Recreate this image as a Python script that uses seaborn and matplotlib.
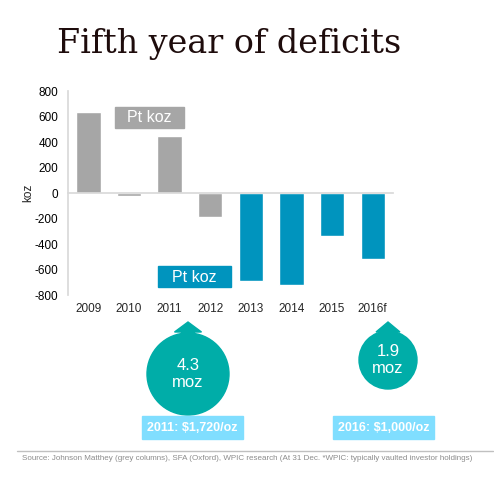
import numpy as np
import matplotlib
matplotlib.use("Agg")
import matplotlib.pyplot as plt
import matplotlib.patches as mpatches
import seaborn as sns

# data
years = ['2009', '2010', '2011', '2012', '2013', '2014', '2015', '2016f']
balance_koz = [635, -25, 450, -185, -690, -720, -335, -520]
source = ['JM', 'JM', 'JM', 'JM', 'WPIC', 'WPIC', 'WPIC', 'WPIC']
palette = {'JM': '#A6A6A6', 'WPIC': '#0094BE'}
y_ticks = [-800, -600, -400, -200, 0, 200, 400, 600, 800]
stock_labels = ['4.3\nmoz', '1.9\nmoz']
price_labels = ['2011: $1,720/oz', '2016: $1,000/oz']

sns.set_theme(style="white")
plt.rcParams['font.family'] = ['Liberation Sans', 'DejaVu Sans']

fig = plt.figure(figsize=(4.94, 4.80), dpi=100)
ax = fig.add_axes([68 / 494, 1 - 295 / 480, 325 / 494, 204 / 480])

sns.barplot(x=years, y=balance_koz, hue=source, palette=palette, dodge=False,
            width=0.6, legend=False, saturation=1, ax=ax)

ax.set_xlim(-0.5, 7.5)
ax.set_ylim(-800, 800)
ax.set_yticks(y_ticks)
ax.set_yticklabels([str(t) for t in y_ticks])
ax.tick_params(axis='y', length=0, labelsize=8.5, pad=7, colors='#000000')
ax.set_ylabel('koz', fontsize=8.5, labelpad=0)

# zero line with boundary ticks, year labels at the bottom
for s in ['top', 'right']:
    ax.spines[s].set_visible(False)
ax.spines['left'].set_color('#D9D9D9')
ax.spines['bottom'].set_position(('data', 0))
ax.spines['bottom'].set_color('#D9D9D9')
ax.set_xticks(np.arange(0.5, 8, 1))
ax.set_xticklabels([])
ax.tick_params(axis='x', direction='inout', length=8, color='#D9D9D9')
ax.set_xlabel('')

sec = ax.secondary_xaxis('bottom')
sec.set_xticks(range(len(years)), labels=years)
sec.spines['bottom'].set_visible(False)
sec.tick_params(length=0, labelsize=8.5, pad=6)

# overlay in pixel units for the annotations
ov = fig.add_axes([0, 0, 1, 1], zorder=5)
ov.set_xlim(0, 494)
ov.set_ylim(480, 0)
ov.axis('off')
ov.patch.set_alpha(0)

ov.text(57, 53, 'Fifth year of deficits', fontsize=24, family='DejaVu Serif',
        color='#1E0C0C', va='baseline')

# series tags
ov.add_patch(mpatches.Rectangle((115, 107), 69, 21, color='#A6A6A6'))
ov.text(149.5, 118, 'Pt koz', color='white', fontsize=11.5, ha='center', va='center')
ov.add_patch(mpatches.Rectangle((158, 266), 73, 21, color='#0094BE'))
ov.text(194.5, 277, 'Pt koz', color='white', fontsize=11.5, ha='center', va='center')

# investor stock bubbles with arrows
teal = '#00ADA8'
for cx, cy, r, hw, lab in [(188, 374, 41, 13.5, stock_labels[0]),
                           (388, 360, 29, 12, stock_labels[1])]:
    ov.add_patch(mpatches.Polygon([(cx, 322), (cx + hw, 332), (cx + 6.5, 332),
                                   (cx + 6.5, cy - r + 6), (cx - 6.5, cy - r + 6),
                                   (cx - 6.5, 332), (cx - hw, 332)], color=teal))
    ov.add_patch(mpatches.Circle((cx, cy), r, color=teal))
    ov.text(cx, cy, lab, color='white', fontsize=12, ha='center', va='center',
            linespacing=1.1)

# price boxes
for x0, lab in [(142, price_labels[0]), (333, price_labels[1])]:
    ov.add_patch(mpatches.Rectangle((x0, 416), 101, 23, color='#80DEFF'))
    ov.text(x0 + 50.5, 428, lab, color='white', fontsize=9, fontweight='bold',
            ha='center', va='center')

# source line
ov.plot([17, 493], [451, 451], color='#C0C0C0', lw=1)
ov.text(22, 458, 'Source: Johnson Matthey (grey columns), SFA (Oxford), WPIC research '
        '(At 31 Dec. *WPIC: typically vaulted investor holdings)',
        fontsize=5.75, color='#8C8C8C', va='center')

fig.savefig('out.png', dpi=100)
